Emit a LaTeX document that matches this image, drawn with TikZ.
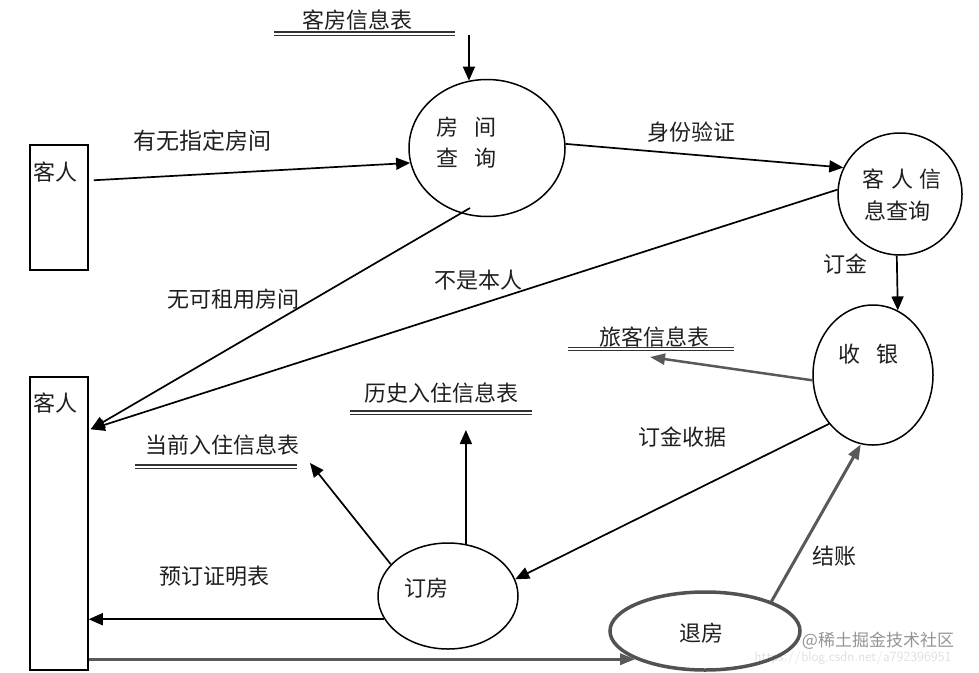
\documentclass[tikz,border=0pt]{standalone}
\usepackage{fontspec}
\setmainfont{Noto Sans CJK SC}
\usetikzlibrary{arrows.meta,shapes.geometric,calc}
\begin{document}
\begin{tikzpicture}[x=1pt,y=-1pt,
  lbl/.style={font=\fontsize{22}{25}\selectfont, inner sep=0pt, text=black!88},
  arr/.style={draw=black, line width=1.7pt, -{Triangle[length=14pt,width=12pt]}},
  garr/.style={draw=black!65, line width=3pt, -{Triangle[length=15pt,width=11pt]}},
  proc/.style={draw=black, line width=1.5pt, ellipse, inner sep=0pt},
  ent/.style={draw=black, line width=1.5pt, rectangle, inner sep=0pt},
  storeline/.style={draw=black!80, line width=1.1pt}
]
\useasboundingbox (0,0) rectangle (979,672);
\fill[white] (0,0) rectangle (979,672);

% watermark
\node[font=\sffamily\fontsize{14}{16}\selectfont, text=black!12, inner sep=0pt] (wmurl) at (853,658) {https://blog.csdn.net/a792396951};
\node[font=\fontsize{17}{19}\selectfont, text=black!42, inner sep=0pt] (wm) at (878,641) {@稀土掘金技术社区};

% entities
\node[ent, minimum width=58pt, minimum height=125pt] (g1) at (59,207.5) {};
\node[ent, minimum width=58pt, minimum height=293pt] (g2) at (59,523.5) {};
\node[lbl] (g1t) at (55,172) {客人};
\node[lbl] (g2t) at (55,403) {客人};

% processes
\node[proc, minimum width=156pt, minimum height=137pt] (room) at (487,148) {};
\node[proc, minimum width=124pt, minimum height=122pt] (ci) at (900,194) {};
\node[proc, minimum width=120pt, minimum height=140pt] (cash) at (873,375) {};
\node[proc, minimum width=140pt, minimum height=106pt] (book) at (448,596) {};
\node[proc, draw=black!68, line width=3.5pt, minimum width=190pt, minimum height=78pt] (chk) at (705,631) {};

\node[lbl] (roomt1) at (447,127) {房};
\node[lbl] (roomt2) at (485,127) {间};
\node[lbl] (roomt3) at (447,158) {查};
\node[lbl] (roomt4) at (485,158) {询};
\node[lbl] (cit1) at (873,179) {客};
\node[lbl] (cit2) at (902,179) {人};
\node[lbl] (cit3) at (930,179) {信};
\node[lbl] (cit4) at (897,211) {息查询};
\node[lbl] (casht1) at (849,354) {收};
\node[lbl] (casht2) at (887,354) {银};
\node[lbl] (bookt) at (426,588) {订房};
\node[lbl] (chkt) at (701,633) {退房};

% data stores
\node[lbl] (kf) at (357,20) {客房信息表};
\draw[storeline] (274,32) -- (455,32);
\draw[storeline] (274,35.5) -- (455,35.5);
\coordinate (kfl) at (469,35);

\node[lbl] (dq) at (222,445) {当前入住信息表};
\draw[storeline] (135,465) -- (297,465);
\draw[storeline] (135,468.5) -- (297,468.5);
\coordinate (dqend) at (310,463);

\node[lbl] (ls) at (441,393) {历史入住信息表};
\draw[storeline] (350,411) -- (532,411);
\draw[storeline] (350,414.5) -- (532,414.5);
\coordinate (lsend) at (466,430);

\node[lbl] (lk) at (654,337) {旅客信息表};
\draw[storeline, line width=0.8pt] (568,347.5) -- (734,347.5);
\draw[storeline, line width=0.8pt] (568,350) -- (734,350);
\coordinate (lkend) at (650,357);

% connectors
\coordinate (g2in) at ($(g2.north east)+(2,53)$);
\draw[arr] ($(g1.north east)+(5,36)$) -- (room.191);
\draw[arr] (room.105 |- kfl) -- (room.105);
\draw[arr] (room.3) -- (ci.155);
\draw[arr] (ci.176) -- (g2in);
\draw[arr] ($(room.center)+(-17,60)$) -- (g2in);
\draw[arr] (ci.267) -- (cash.69.5);
\draw[garr, line width=2.5pt] (cash.185) -- (lkend);
\draw[arr] (cash.228) -- (book.14);
\draw[garr] (chk.24) -- (cash.260);
\draw[arr] (book.151) -- (dqend);
\draw[arr] (book.71) -- (book.71 |- lsend);
\draw[arr] (book.200) -- (book.200 -| g2.east);
\draw[garr] (chk.202 -| g2.east) -- (chk.202);

% labels
\node[lbl, font=\fontsize{23}{26}\selectfont] (l1) at (202,141) {有无指定房间};
\node[lbl] (l2) at (691,132) {身份验证};
\node[lbl] (l3) at (845,264) {订金};
\node[lbl] (l4) at (478,280) {不是本人};
\node[lbl] (l5) at (233,299) {无可租用房间};
\node[lbl] (l6) at (682,437) {订金收据};
\node[lbl] (l7) at (214,576) {预订证明表};
\node[lbl] (l8) at (834,556) {结账};
\end{tikzpicture}
\end{document}
